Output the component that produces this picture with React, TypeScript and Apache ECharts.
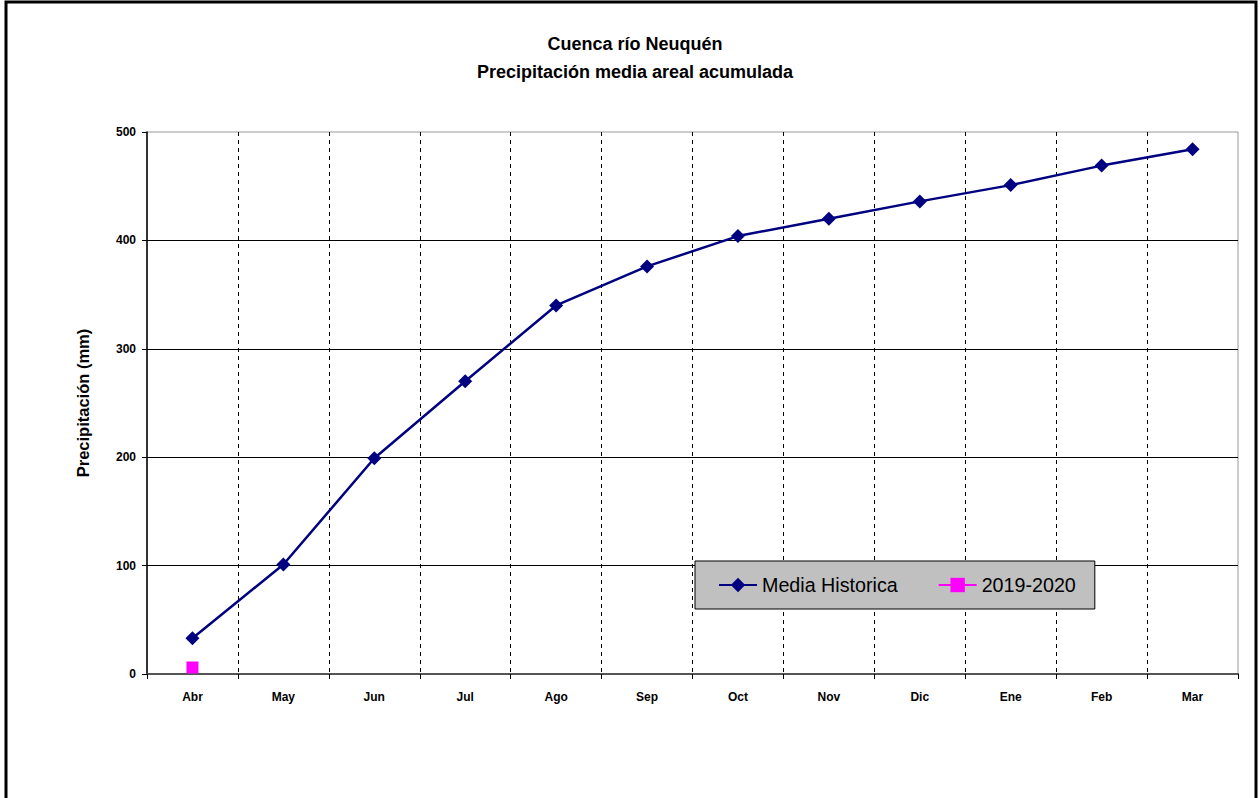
import React, { useEffect, useRef } from "react";
import * as echarts from "echarts";

const categories = ["Abr", "May", "Jun", "Jul", "Ago", "Sep", "Oct", "Nov", "Dic", "Ene", "Feb", "Mar"];
const mediaHistorica = [33, 101, 199, 270, 340, 376, 404, 420, 436, 451, 469, 484];
const temporada = [6, null, null, null, null, null, null, null, null, null, null, null];
const titleLines = ["Cuenca río Neuquén", "Precipitación media areal acumulada"];
const yAxisName = "Precipitación (mm)";
const seriesNames = ["Media Historica", "2019-2020"];

const FONT = 'Arial, "Liberation Sans", sans-serif';

export default function App() {
  const ref = useRef<HTMLDivElement>(null);
  useEffect(() => {
    if (!ref.current) return;
    const chart = echarts.init(ref.current, undefined, { renderer: "svg" });
    chart.setOption({
      animation: false,
      backgroundColor: "#ffffff",
      textStyle: { fontFamily: FONT },
      title: {
        text: titleLines.join("\n"),
        left: 630,
        textAlign: "center",
        top: 25,
        textStyle: { fontFamily: FONT, fontSize: 18, fontWeight: "bold", color: "#000", lineHeight: 28 },
      },
      graphic: [
        {
          type: "rect",
          shape: { x: 6, y: 2, width: 1250, height: 900 },
          style: { fill: "none", stroke: "#000", lineWidth: 3 },
          silent: true,
          z: 100,
        },
      ],
      legend: {
        left: 695,
        top: 561,
        orient: "horizontal",
        backgroundColor: "#C0C0C0",
        borderColor: "#000",
        borderWidth: 1,
        borderRadius: 0,
        padding: [14, 19, 14, 23],
        itemGap: 40,
        itemWidth: 38,
        itemHeight: 18,
        textStyle: { fontFamily: FONT, fontSize: 19.7, color: "#000" },
        data: seriesNames,
      },
      grid: {
        left: 147,
        right: 22,
        top: 132,
        bottom: 124,
        show: true,
        borderColor: "#999",
        borderWidth: 1,
        backgroundColor: "transparent",
      },
      xAxis: {
        type: "category",
        data: categories,
        boundaryGap: true,
        axisLine: { show: true, lineStyle: { color: "#555", width: 2 } },
        axisTick: { show: true, length: 5, lineStyle: { color: "#000" } },
        axisLabel: { fontFamily: FONT, fontSize: 12, fontWeight: "bold", color: "#000", margin: 17 },
        splitLine: {
          show: true,
          showMinLine: false,
          showMaxLine: false,
          lineStyle: { color: "#000", type: [4, 4], width: 1 },
        },
      },
      yAxis: {
        type: "value",
        min: 0,
        max: 500,
        interval: 100,
        name: yAxisName,
        nameLocation: "middle",
        nameGap: 56,
        nameTextStyle: { fontFamily: FONT, fontSize: 16.5, fontWeight: "bold", color: "#000" },
        axisLine: { show: true, lineStyle: { color: "#000", width: 1.5 } },
        axisTick: { show: true, length: 5, lineStyle: { color: "#000" } },
        axisLabel: { fontFamily: FONT, fontSize: 12, fontWeight: "bold", color: "#000", margin: 11 },
        splitLine: {
          show: true,
          showMinLine: false,
          showMaxLine: false,
          lineStyle: { color: "#000", width: 1 },
        },
      },
      series: [
        {
          name: seriesNames[0],
          type: "line",
          data: mediaHistorica,
          symbol: "diamond",
          symbolSize: 14,
          itemStyle: { color: "#000080" },
          lineStyle: { color: "#000080", width: 2.5 },
          z: 5,
        },
        {
          name: seriesNames[1],
          type: "line",
          data: temporada,
          symbol: "rect",
          symbolSize: 12,
          itemStyle: { color: "#FF00FF" },
          lineStyle: { color: "#FF00FF", width: 2.5 },
          z: 6,
        },
      ],
    });
    return () => chart.dispose();
  }, []);
  return <div ref={ref} style={{ position: "fixed", left: 0, top: 0, width: 1260, height: 798 }} />;
}
